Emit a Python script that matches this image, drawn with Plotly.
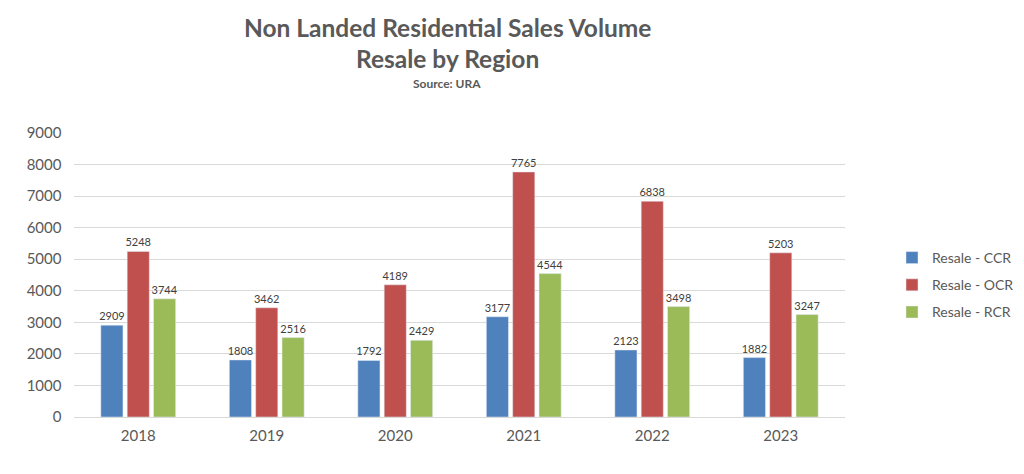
import plotly.graph_objects as go

years = ["2018", "2019", "2020", "2021", "2022", "2023"]
ccr = [2909, 1808, 1792, 3177, 2123, 1882]
ocr = [5248, 3462, 4189, 7765, 6838, 5203]
rcr = [3744, 2516, 2429, 4544, 3498, 3247]
series_names = ["Resale - CCR", "Resale - OCR", "Resale - RCR"]
colors = ["#4F81BD", "#C0504D", "#9BBB59"]

L, R, T, B = 74, 179, 133, 57
W, H = 1024, 474
plot_w = W - L - R
plot_h = H - T - B

fig = go.Figure()
for name, vals, col in zip(series_names, [ccr, ocr, rcr], colors):
    fig.add_trace(go.Bar(
        x=years, y=vals, name=name, marker_color=col, legendgroup=name,
        text=[str(v) for v in vals], textposition="outside", constraintext="none",
        textfont=dict(size=11, color="#404040", family="Lato, Open Sans, sans-serif"),
        cliponaxis=False,
    ))

fig.update_layout(
    width=W, height=H,
    paper_bgcolor="white", plot_bgcolor="white",
    margin=dict(l=L, r=R, t=T, b=B, autoexpand=False),
    barmode="group", bargap=0.385, bargroupgap=0.16,
    font=dict(family="Lato, Open Sans, sans-serif", color="#595959"),
    showlegend=True,
    legend=dict(xref="container", yref="container", x=892/W, y=1 - 242/H,
                xanchor="left", yanchor="top", traceorder="grouped",
                font=dict(size=14, color="#595959"), tracegroupgap=6,
                itemwidth=30),
    xaxis=dict(showgrid=False, showline=True, linecolor="#D9D9D9", linewidth=1,
               tickfont=dict(size=15, color="#595959"), ticks="", automargin=False,
               ticklabelstandoff=5),
    yaxis=dict(range=[0, 9000], dtick=1000, showgrid=True, gridcolor="#D9D9D9",
               zeroline=False, tickfont=dict(size=15, color="#595959"),
               ticksuffix="   ", automargin=False),
    uniformtext=dict(mode=False),
)

cx = (447 - L) / plot_w
for txt, size, ypix in [("<b>Non Landed Residential Sales Volume</b>", 24.5, 28),
                        ("<b>Resale by Region</b>", 24.5, 58),
                        ("<b>Source: URA</b>", 12, 83)]:
    fig.add_annotation(text=txt, xref="paper", yref="paper",
                       x=cx, y=1 + (T - ypix) / plot_h, xanchor="center", yanchor="middle",
                       showarrow=False, font=dict(size=size, color="#595959"))

fig.write_html("out.html", config={"displayModeBar": False},
               post_script="document.body.style.margin='0';document.body.style.overflow='hidden';")
